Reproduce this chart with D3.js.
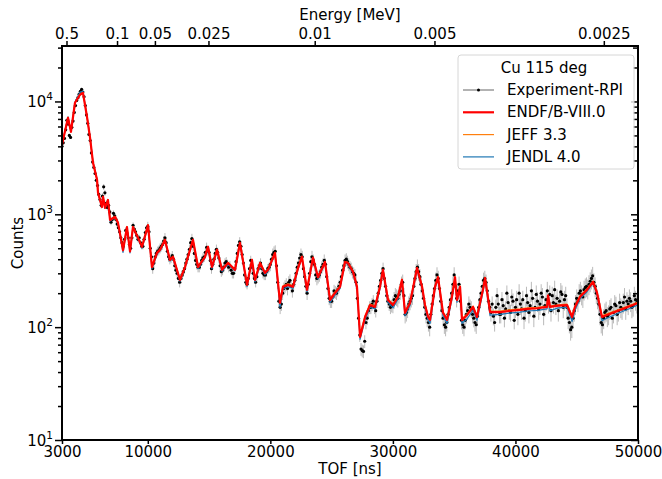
<!DOCTYPE html>
<html>
<head>
<meta charset="utf-8">
<script src="https://cdn.jsdelivr.net/npm/d3@7"></script>
<style>
  body { margin: 0; background: #fff; }
  svg { font-family: "DejaVu Sans", sans-serif; }
  .axis path, .axis line { stroke: #000; }
</style>
</head>
<body>
<script>
// model curves share one TOF grid (ns)
const modelTof = [3000,3490,3730,4060,4470,4710,5040,5290,5530,5860,
  5940,6260,6350,6510,6750,6920,7330,7570,7980,8300,
  8550,8790,9200,9530,10020,10340,10750,11000,11400,11810,
  12060,12630,13040,13280,13690,14100,14670,14910,15240,15650,
  16060,16550,17120,17520,18100,18500,18750,19160,19560,19810,
  20380,20790,21030,21440,21850,22260,22580,22990,23480,23890,
  24460,24870,25280,25690,26090,26340,26750,27070,27320,27730,
  28130,28540,28950,29190,29600,30010,30420,30740,30990,31400,
  31970,32380,32620,32870,33030,33440,33680,34090,34420,34820,
  35070,35230,35480,35640,36050,36540,36860,37350,37520,37930,
  38740,39500,40370,41000,41800,42580,42660,42820,43500,44210,
  44620,44860,45270,45840,46330,46660,47060,47470,48530,49590,
  50000];

const endfCounts = [4130,7170,5380,9740,11470,11900,7310,4760,2860,2020,
  1550,1160,1430,1140,1340,890,950,840,480,770,
  470,770,620,515,800,341,455,484,593,394,
  420,262,341,420,593,341,420,515,341,484,
  322,370,322,558,237,394,262,370,302,322,
  455,164,228,237,228,334,420,214,412,277,
  378,174,201,228,378,370,308,228,82,123,
  157,151,228,322,174,157,186,262,134,164,
  334,228,157,123,116,228,277,134,116,186,
  277,174,228,116,128,151,123,214,272,136,
  136,139,142,145,147,151,190,151,155,157,
  123,151,186,214,252,201,123,128,142,157,
  164];

const jeffCounts = [4150,7250,5400,9800,11600,12000,7350,4780,2880,2030,
  1560,1170,1440,1150,1350,900,960,850,490,780,
  475,780,625,520,810,345,460,490,600,398,
  425,265,345,425,600,345,425,520,345,490,
  325,375,325,565,240,398,265,375,305,325,
  460,168,232,242,232,338,425,218,418,280,
  382,178,205,232,382,375,312,232,86,126,
  160,154,232,326,178,160,190,266,137,167,
  338,232,160,126,119,232,281,137,119,190,
  281,178,232,119,131,154,126,218,276,139,
  139,142,145,148,150,154,192,154,158,160,
  126,154,190,218,256,205,126,131,145,160,
  167];

const jendlCounts = [4200,7300,5450,9900,12100,12300,7400,4800,2900,2050,
  1570,1150,1420,1130,1330,870,940,820,460,760,
  455,760,610,500,790,330,445,475,585,385,
  410,255,335,415,585,330,410,505,330,475,
  312,360,315,550,228,385,252,360,292,312,
  448,150,218,228,220,325,410,205,405,268,
  370,165,192,220,370,362,298,218,78,116,
  150,145,220,315,166,148,178,255,126,156,
  326,220,148,115,108,220,270,126,108,178,
  270,166,220,108,118,142,115,205,265,128,
  130,133,136,139,141,145,185,140,148,150,
  112,142,178,206,246,193,114,120,135,150,
  158];

// experiment: 100 ns bins starting at 3000 ns (one row = 1000 ns)
const expTofStart = 3000;
const expTofStep = 100;
const expCounts = [
  4000,4300,4700,5600,6800,6300,5000,4800,5900,6700,
  8000,9200,10200,10800,11600,12300,12800,12100,11000,9200,
  7600,6400,5100,4500,3500,2900,2600,2300,2000,1800,
  1500,1350,1200,1450,1750,1550,1250,1150,1200,1050,
  850,900,1020,970,900,820,760,700,620,560,
  520,600,720,680,620,540,500,620,800,740,
  700,650,600,620,560,520,520,600,690,760,
  780,700,500,420,330,370,420,450,470,480,
  500,520,540,580,620,560,470,420,400,410,
  430,400,350,320,300,270,250,270,290,310,
  330,370,400,440,490,560,610,520,450,390,
  360,340,340,360,390,410,420,460,510,480,
  460,390,330,360,400,450,490,460,410,350,
  310,320,340,370,380,360,340,350,320,300,
  300,330,380,450,530,570,520,440,370,290,
  250,240,270,330,390,340,300,270,250,280,
  330,350,370,330,300,290,290,310,330,340,
  360,400,440,460,470,350,250,170,150,160,
  200,220,230,240,220,250,260,230,210,240,
  260,300,340,370,410,440,420,330,280,230,
  200,240,300,380,420,390,360,290,270,280,
  290,310,340,360,390,360,280,220,180,170,
  170,185,210,205,200,215,230,250,280,320,
  350,390,400,380,360,340,330,310,300,290,
  250,180,120,85,64,62,61,75,110,120,
  140,150,150,160,170,150,140,170,200,230,
  260,300,330,270,230,190,170,160,150,155,
  160,175,190,185,180,195,210,240,250,190,
  130,135,145,160,170,180,190,230,270,310,
  340,310,280,240,210,180,150,130,120,110,
  100,130,160,190,220,260,290,270,220,170,
  140,120,105,100,110,130,150,175,200,240,
  290,230,180,210,240,170,115,105,100,115,
  130,140,160,150,145,130,120,110,105,125,
  150,175,200,230,260,270,250,210,170,150,
  135,160,125,110,150,190,160,130,130,175,
  155,120,145,200,165,140,135,185,170,115,
  150,175,130,200,160,145,175,120,140,190,
  165,135,155,210,180,125,150,195,170,145,
  160,200,185,130,155,175,210,165,195,140,
  190,165,215,160,180,140,170,205,195,150,
  175,190,150,120,110,95,100,120,140,160,
  180,170,200,210,195,185,215,225,230,220,
  240,255,270,285,250,230,200,180,160,130,
  110,105,120,135,140,125,130,145,150,120,
  135,160,155,130,140,165,150,145,165,185,
  145,170,160,180,170,150,155,190,175,165,
  170];

// relative error, per TOF region
const errTof = [3000,6000,10000,20000,30000,40000];
const errRel = [0.03,0.06,0.10,0.13,0.17,0.20];

// top axis: neutron energy ticks (MeV)
const energyTicks = [0.5, 0.1, 0.05, 0.025, 0.01, 0.005, 0.0025];
const energyLabels = ['0.5', '0.1', '0.05', '0.025', '0.01', '0.005', '0.0025'];
const xTicks = [3000, 10000, 20000, 30000, 40000, 50000];
const yMajor = [10, 100, 1000, 10000];

const width = 662;
const height = 479;
const margin = { top: 46, right: 24, bottom: 39, left: 62 };
const fs = 15;

const svg = d3.select('body').append('svg')
  .attr('width', width)
  .attr('height', height);

const x = d3.scaleLinear().domain([3000, 50000]).range([margin.left, width - margin.right]);
const y = d3.scaleLog().domain([10, 31000]).range([height - margin.bottom, margin.top]);

// flight path conversion, t = k/sqrt(E) + t0
const tofFromEnergy = (e) => 2359 / Math.sqrt(e) + 31;

svg.append('clipPath').attr('id', 'clip')
  .append('rect')
  .attr('x', margin.left).attr('y', margin.top)
  .attr('width', width - margin.left - margin.right)
  .attr('height', height - margin.top - margin.bottom);

const area = svg.append('g').attr('clip-path', 'url(#clip)');

const expData = expCounts.map((c, i) => {
  const t = expTofStart + i * expTofStep;
  const rel = errRel[Math.max(0, d3.bisectRight(errTof, t) - 1)];
  return { t, c, e: c * rel };
});

area.selectAll('line.err')
  .data(expData)
  .enter()
  .append('line')
  .attr('class', 'err')
  .attr('x1', (d) => x(d.t)).attr('x2', (d) => x(d.t))
  .attr('y1', (d) => y(d.c - d.e)).attr('y2', (d) => y(d.c + d.e))
  .attr('stroke', '#8c8c8c')
  .attr('stroke-width', 0.6);

area.selectAll('circle.exp')
  .data(expData)
  .enter()
  .append('circle')
  .attr('class', 'exp')
  .attr('cx', (d) => x(d.t))
  .attr('cy', (d) => y(d.c))
  .attr('r', 1.6)
  .attr('fill', '#000');

const modelLine = d3.line().x((d) => x(d[0])).y((d) => y(d[1]));
const models = [
  { name: 'JENDL 4.0', counts: jendlCounts, color: '#1f77b4', w: 1.2 },
  { name: 'JEFF 3.3', counts: jeffCounts, color: '#ff7f0e', w: 1.2 },
  { name: 'ENDF/B-VIII.0', counts: endfCounts, color: '#ff0000', w: 2.2 },
];
models.forEach((m) => {
  area.append('path')
    .datum(modelTof.map((t, i) => [t, m.counts[i]]))
    .attr('d', modelLine)
    .attr('fill', 'none')
    .attr('stroke', m.color)
    .attr('stroke-width', m.w)
    .attr('stroke-linejoin', 'round');
});

// axes
const x0 = margin.left;
const x1 = width - margin.right;
const y0 = height - margin.bottom;
const y1 = margin.top;

const bottomAxis = svg.append('g')
  .attr('class', 'axis')
  .attr('transform', `translate(0, ${y0})`)
  .call(d3.axisBottom(x).tickValues(xTicks).tickSize(4).tickPadding(2).tickSizeOuter(0).tickFormat(d3.format('d')));
bottomAxis.select('.domain').remove();
bottomAxis.selectAll('text')
  .attr('font-size', fs).attr('font-family', 'DejaVu Sans').attr('fill', '#000');

const minor = y.ticks().filter((v) => !yMajor.includes(v));

const leftAxis = svg.append('g').attr('class', 'axis').attr('transform', `translate(${x0}, 0)`);
leftAxis.call(d3.axisLeft(y).tickValues(yMajor).tickSize(7).tickFormat(''));
leftAxis.select('.domain').remove();
const leftMinor = svg.append('g').attr('class', 'axis').attr('transform', `translate(${x0}, 0)`);
leftMinor.call(d3.axisLeft(y).tickValues(minor).tickSize(4).tickFormat(''));
leftMinor.select('.domain').remove();

const rightAxis = svg.append('g').attr('class', 'axis').attr('transform', `translate(${x1}, 0)`);
rightAxis.call(d3.axisLeft(y).tickValues(yMajor).tickSize(7).tickFormat(''));
rightAxis.select('.domain').remove();
const rightMinor = svg.append('g').attr('class', 'axis').attr('transform', `translate(${x1}, 0)`);
rightMinor.call(d3.axisLeft(y).tickValues(minor).tickSize(5).tickFormat(''));
rightMinor.select('.domain').remove();

yMajor.forEach((v) => {
  const t = svg.append('text')
    .attr('x', x0 - 9)
    .attr('y', y(v) + 6)
    .attr('text-anchor', 'end')
    .attr('font-size', fs)
    .attr('fill', '#000');
  t.append('tspan').text('10');
  t.append('tspan').text(Math.round(Math.log10(v))).attr('font-size', 10.5).attr('dy', -7);
});

const topAxis = svg.append('g')
  .attr('class', 'axis')
  .attr('transform', `translate(0, ${y1})`)
  .call(d3.axisTop(x)
    .tickValues(energyTicks.map(tofFromEnergy))
    .tickSize(5)
    .tickPadding(2)
    .tickFormat((d, i) => energyLabels[i]));
topAxis.select('.domain').remove();
topAxis.selectAll('text')
  .attr('font-size', fs).attr('font-family', 'DejaVu Sans').attr('fill', '#000');

svg.selectAll('.axis line').attr('stroke-width', 1.5);

// frame
svg.append('rect')
  .attr('x', x0).attr('y', y1)
  .attr('width', x1 - x0).attr('height', y0 - y1)
  .attr('fill', 'none')
  .attr('stroke', '#000')
  .attr('stroke-width', 2);

// axis titles
svg.append('text').text('TOF [ns]')
  .attr('x', (x0 + x1) / 2).attr('y', 474)
  .attr('text-anchor', 'middle').attr('font-size', fs);
svg.append('text').text('Energy [MeV]')
  .attr('x', (x0 + x1) / 2).attr('y', 20)
  .attr('text-anchor', 'middle').attr('font-size', fs);
svg.append('text').text('Counts')
  .attr('transform', `translate(23, ${(y0 + y1) / 2}) rotate(-90)`)
  .attr('text-anchor', 'middle').attr('font-size', fs);

// legend
const legend = svg.append('g').attr('transform', 'translate(458, 55)');
legend.append('rect')
  .attr('width', 176).attr('height', 114).attr('rx', 3)
  .attr('fill', '#fff').attr('fill-opacity', 0.8)
  .attr('stroke', '#d6d6d6');
legend.append('text').text('Cu 115 deg')
  .attr('x', 86).attr('y', 18).attr('text-anchor', 'middle').attr('font-size', fs);

const legendRows = [
  { name: 'Experiment-RPI', color: '#666', w: 1 },
  { name: 'ENDF/B-VIII.0', color: '#ff0000', w: 2.2 },
  { name: 'JEFF 3.3', color: '#ff7f0e', w: 1.2 },
  { name: 'JENDL 4.0', color: '#1f77b4', w: 1.2 },
];
legendRows.forEach((r, i) => {
  const yy = 35 + i * 22.3;
  legend.append('line')
    .attr('x1', 5).attr('x2', 36).attr('y1', yy).attr('y2', yy)
    .attr('stroke', r.color).attr('stroke-width', r.w);
  if (i === 0) {
    legend.append('circle').attr('cx', 20.5).attr('cy', yy).attr('r', 1.5).attr('fill', '#000');
  }
  legend.append('text').text(r.name)
    .attr('x', 49).attr('y', yy + 5).attr('font-size', fs);
});
</script>
</body>
</html>
